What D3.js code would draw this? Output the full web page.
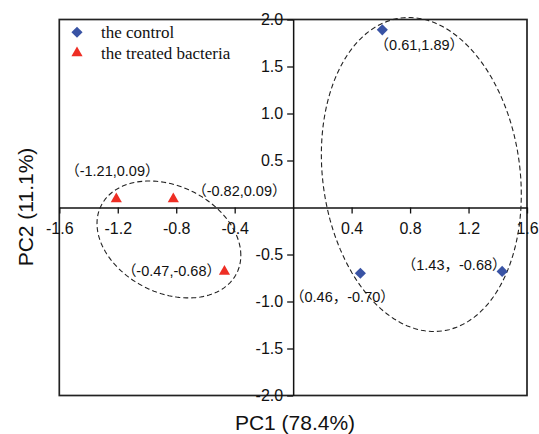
<!DOCTYPE html>
<html>
<head>
<meta charset="utf-8">
<title>PCA</title>
<style>
  body { margin: 0; background: #fff; }
  svg text { font-family: "Liberation Sans", Arial, "Noto Sans CJK SC", sans-serif; fill: #111; }
</style>
</head>
<body>
<svg width="539" height="434"></svg>
<script src="https://d3js.org/d3.v7.min.js"></script>
<script>

// data
var groups = ["the control", "the treated bacteria"];
var controlX = [0.61, 0.46, 1.43];
var controlY = [1.89, -0.70, -0.68];
var controlLabels = ["（0.61,1.89）", "（0.46，-0.70）", "（1.43，-0.68）"];
var treatedX = [-1.21, -0.82, -0.47];
var treatedY = [0.09, 0.09, -0.68];
var treatedLabels = ["（-1.21,0.09）", "（-0.82,0.09）", "（-0.47,-0.68）"];
var xTicks = [-1.6, -1.2, -0.8, -0.4, 0.4, 0.8, 1.2, 1.6];
var yTicks = [-2.0, -1.5, -1.0, -0.5, 0.5, 1.0, 1.5, 2.0];
// ellipse: centre, spread along x / y, correlation (data units)
var ellipseCx = [0.877, -0.85];
var ellipseCy = [0.351, -0.34];
var ellipseSx = [0.684, 0.492];
var ellipseSy = [1.670, 0.622];
var ellipseR = [-0.127, -0.273];

var svg = d3.select("svg");
var mLeft = 59.3, mRight = 527, mTop = 19.5, mBottom = 395.5;

var x = d3.scaleLinear().domain([-1.6, 1.6]).range([mLeft, mRight]);
var y = d3.scaleLinear().domain([-2, 2]).range([mBottom, mTop]);

var blue = "#3953a4", red = "#ee2e24";

// frame
svg.append("rect")
    .attr("x", mLeft).attr("y", mTop)
    .attr("width", mRight - mLeft).attr("height", mBottom - mTop)
    .attr("fill", "none").attr("stroke", "#222").attr("stroke-width", 1.7);

var fmt = function(d) { return d.toFixed(1); };

var xAxis = svg.append("g")
    .attr("transform", "translate(0," + y(0) + ")")
    .call(d3.axisBottom(x).tickValues(xTicks).tickFormat(fmt).tickSize(6).tickSizeOuter(0).tickPadding(9));

var yAxis = svg.append("g")
    .attr("transform", "translate(" + x(0) + ",0)")
    .call(d3.axisLeft(y).tickValues(yTicks).tickFormat(fmt).tickSize(6).tickSizeOuter(0).tickPadding(4));

[xAxis, yAxis].forEach(function(a) {
  a.select(".domain").attr("stroke", "#111").attr("stroke-width", 1.5);
  a.selectAll(".tick line").attr("stroke", "#111").attr("stroke-width", 1.3);
  a.selectAll(".tick text")
      .style("font-family", "'Liberation Sans', Arial, sans-serif")
      .style("font-size", "16px").attr("fill", "#111");
});

// ellipses
var line = d3.line().curve(d3.curveLinearClosed);
ellipseCx.forEach(function(cx, i) {
  var pts = d3.range(0, 360, 2).map(function(a) {
    var t = a * Math.PI / 180;
    var r = ellipseR[i];
    var dx = cx + ellipseSx[i] * Math.cos(t);
    var dy = ellipseCy[i] + ellipseSy[i] * (r * Math.cos(t) + Math.sqrt(1 - r * r) * Math.sin(t));
    return [x(dx), y(dy)];
  });
  svg.append("path")
      .attr("d", line(pts))
      .attr("fill", "none")
      .attr("stroke", "#222")
      .attr("stroke-width", 1.1)
      .attr("stroke-dasharray", "5,3");
});

var diamond = d3.symbol().type(d3.symbolSquare).size(62);
var triangle = d3.symbol().type(d3.symbolTriangle).size(54);

// points
svg.selectAll(".ctl").data(controlX).enter().append("path")
    .attr("class", "ctl")
    .attr("d", diamond)
    .attr("transform", function(d, i) { return "translate(" + x(d) + "," + y(controlY[i]) + ") rotate(45)"; })
    .attr("fill", blue);

svg.selectAll(".trt").data(treatedX).enter().append("path")
    .attr("class", "trt")
    .attr("d", triangle)
    .attr("transform", function(d, i) { return "translate(" + x(d) + "," + y(treatedY[i]) + ")"; })
    .attr("fill", red);

// point labels (pixel offsets from the point)
var ctlOff = [[37, 15], [-18, 24], [-48, -6]];
var trtOff = [[-4, -28], [66, -8], [-53, 0]];

function labels(xs, ys, texts, off) {
  xs.forEach(function(d, i) {
    svg.append("text")
        .attr("x", x(d) + off[i][0])
        .attr("y", y(ys[i]) + off[i][1])
        .attr("dy", "0.35em")
        .attr("text-anchor", "middle")
        .style("font-size", "14.5px")
        .attr("fill", "#222")
        .text(texts[i]);
  });
}
labels(controlX, controlY, controlLabels, ctlOff);
labels(treatedX, treatedY, treatedLabels, trtOff);

// legend
var legend = svg.append("g");
legend.append("path").attr("d", diamond).attr("transform", "translate(77,32.3) rotate(45)").attr("fill", blue);
legend.append("path").attr("d", triangle).attr("transform", "translate(77,53)").attr("fill", red);
legend.selectAll(".lt").data(groups).enter().append("text")
    .attr("class", "lt")
    .attr("x", 101)
    .attr("y", function(d, i) { return 37.5 + i * 21.5; })
    .style("font-family", "'Liberation Serif', 'Times New Roman', serif")
    .style("font-size", "17px")
    .text(function(d) { return d; });

// axis titles
svg.append("text")
    .attr("x", 295).attr("y", 430)
    .attr("text-anchor", "middle")
    .style("font-size", "21px")
    .text("PC1 (78.4%)");

svg.append("text")
    .attr("transform", "translate(33,207) rotate(-90)")
    .attr("text-anchor", "middle")
    .style("font-size", "21px")
    .text("PC2 (11.1%)");

</script>
</body>
</html>
